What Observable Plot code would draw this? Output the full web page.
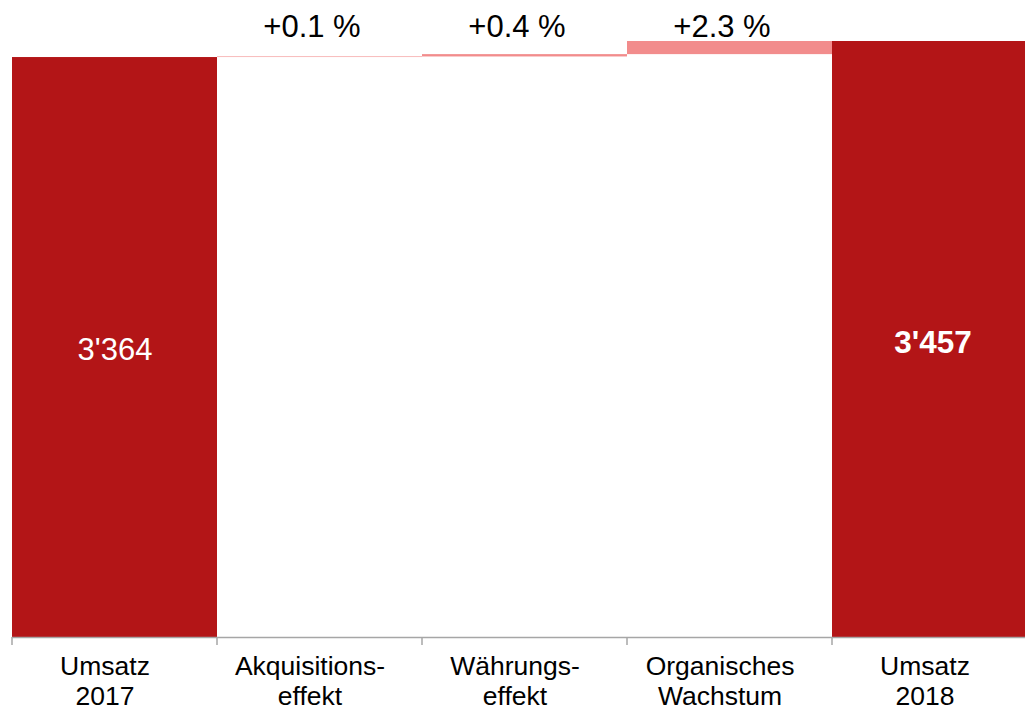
<!DOCTYPE html>
<html>
<head>
<meta charset="utf-8">
<script src="https://cdn.jsdelivr.net/npm/d3@7"></script>
<script src="https://cdn.jsdelivr.net/npm/@observablehq/plot@0.6"></script>
<style>
  html, body { margin: 0; padding: 0; background: #fff; }
  #wrap { width: 1025px; height: 709px; overflow: hidden; }
  #wrap svg { max-width: none !important; }
</style>
</head>
<body>
<div id="wrap"></div>
<script>
// ---- data ----
const categories = ["Umsatz 2017", "Akquisitionseffekt", "Währungseffekt", "Organisches Wachstum", "Umsatz 2018"];
const categoryLabels = ["Umsatz\n2017", "Akquisitions-\neffekt", "Währungs-\neffekt", "Organisches\nWachstum", "Umsatz\n2018"];
const startValue = 3364;   // Umsatz 2017 (Mio.)
const endValue = 3457;     // Umsatz 2018 (Mio.)
const deltaValues = [3.4, 13.5, 76.1];           // Akquisition, Währung, Organisch
const deltaLabels = ["+0.1 %", "+0.4 %", "+2.3 %"];
const totalLabels = ["3'364", "3'457"];

// ---- build waterfall rows ----
const rows = [];
rows.push({cat: categories[0], y1: 0, y2: startValue, kind: "total", label: totalLabels[0]});
let cum = startValue;
deltaValues.forEach((v, i) => {
  rows.push({cat: categories[i + 1], y1: cum, y2: cum + v, kind: "delta", label: deltaLabels[i]});
  cum += v;
});
rows.push({cat: categories[4], y1: 0, y2: endValue, kind: "total", label: totalLabels[1]});

const boundaryTicks = (index, scales, values, dims) => {
  const x = scales.x;
  const g = d3.create("svg:g");
  const y0 = dims.height - dims.marginBottom;
  categories.forEach(c => {
    const px = x(c);
    g.append("line")
      .attr("x1", px).attr("x2", px)
      .attr("y1", y0).attr("y2", y0 + 8)
      .attr("stroke", "#a6a6a6").attr("stroke-width", 1.5);
  });
  return g.node();
};

const chart = Plot.plot({
  width: 1037,
  height: 709,
  marginLeft: 12,
  marginRight: 0,
  marginTop: 41,
  marginBottom: 72,
  style: {fontFamily: "'Liberation Sans', Arial, sans-serif", background: "#fff", maxWidth: "none"},
  x: {domain: categories, padding: 0, axis: null},
  y: {domain: [0, endValue], axis: null},
  color: {domain: ["total", "delta"], range: ["#b31517", "#f28c8c"]},
  marks: [
    Plot.barY(rows, {x: "cat", y1: "y1", y2: "y2", fill: "kind", inset: 0}),
    Plot.ruleY([0], {stroke: "#a6a6a6", strokeWidth: 1.5}),
    boundaryTicks,
    Plot.text(categories, {
      x: d => d,
      text: (d, i) => categoryLabels[i],
      frameAnchor: "bottom",
      lineAnchor: "top",
      dy: 16,
      dx: -10,
      fontSize: 26.5,
      lineHeight: 1.13,
      fill: "#000"
    }),
    Plot.text(rows.filter(d => d.kind === "delta"), {
      x: "cat",
      text: "label",
      frameAnchor: "top",
      lineAnchor: "bottom",
      dy: -5,
      dx: -8,
      fontSize: 31,
      fill: "#000"
    }),
    Plot.text(rows.filter(d => d.cat === categories[0]), {
      x: "cat",
      y: d => (d.y1 + d.y2) / 2,
      dy: 3,
      text: "label",
      fill: "#fff",
      fontSize: 31
    }),
    Plot.text(rows.filter(d => d.cat === categories[4]), {
      x: "cat",
      y: d => (d.y1 + d.y2) / 2,
      dy: 3,
      dx: -2,
      text: "label",
      fill: "#fff",
      fontSize: 31.5,
      fontWeight: "bold"
    })
  ]
});
document.getElementById("wrap").appendChild(chart);
</script>
</body>
</html>
